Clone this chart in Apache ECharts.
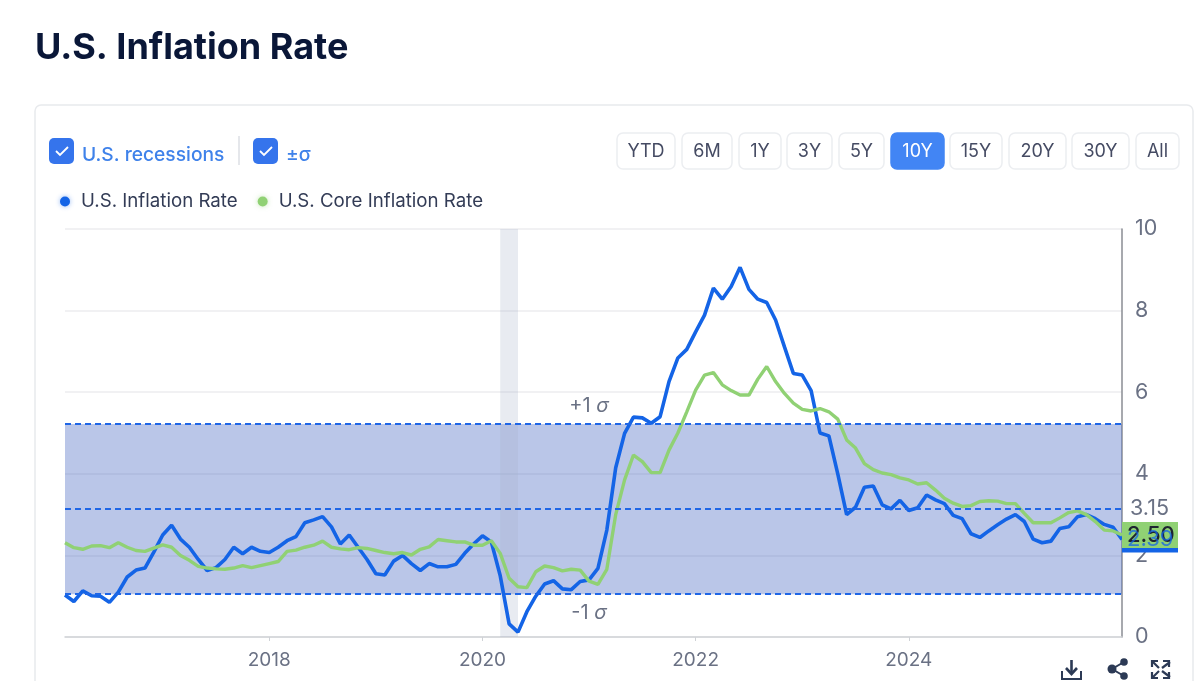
<!DOCTYPE html>
<html><head><meta charset="utf-8">
<script src="https://cdn.jsdelivr.net/npm/echarts@6/dist/echarts.min.js"></script>
<style>html,body{margin:0;padding:0;background:#fff}#c{width:1200px;height:681px}</style>
</head><body><div id="c"></div>
<script>
const chartTitle='U.S. Inflation Rate';
const inflation=[1.03,0.87,1.13,1.01,1.0,0.85,1.1,1.47,1.64,1.69,2.08,2.5,
2.74,2.4,2.2,1.9,1.63,1.7,1.9,2.2,2.04,2.2,2.1,2.07,
2.2,2.36,2.46,2.8,2.87,2.95,2.7,2.28,2.5,2.2,1.9,1.55,
1.52,1.86,2.0,1.8,1.63,1.8,1.72,1.72,1.78,2.05,2.28,2.48,
2.33,1.5,0.32,0.12,0.62,1.0,1.3,1.38,1.18,1.16,1.36,1.4,
1.68,2.62,4.15,4.99,5.39,5.37,5.24,5.4,6.26,6.84,7.05,7.48,
7.89,8.55,8.28,8.59,9.06,8.52,8.28,8.2,7.77,7.11,6.46,6.42,
6.04,5.0,4.93,4.0,3.0,3.18,3.67,3.7,3.24,3.14,3.35,3.1,
3.17,3.48,3.36,3.27,2.98,2.9,2.53,2.44,2.6,2.75,2.89,3.0,
2.83,2.4,2.31,2.35,2.66,2.7,2.95,3.0,2.9,2.76,2.69,2.39];
const core=[2.31,2.19,2.15,2.23,2.24,2.19,2.31,2.2,2.12,2.1,2.18,2.26,
2.2,2.0,1.88,1.73,1.69,1.67,1.66,1.69,1.75,1.7,1.75,1.8,
1.85,2.1,2.13,2.2,2.25,2.35,2.2,2.16,2.14,2.19,2.17,2.12,
2.07,2.04,2.07,2.01,2.15,2.21,2.39,2.36,2.33,2.33,2.25,2.25,
2.36,2.05,1.44,1.23,1.21,1.6,1.74,1.7,1.62,1.66,1.64,1.37,
1.29,1.66,3.0,3.85,4.46,4.3,4.03,4.03,4.58,5.0,5.52,6.05,
6.42,6.48,6.18,6.04,5.93,5.93,6.32,6.63,6.26,5.97,5.73,5.58,
5.54,5.6,5.52,5.34,4.83,4.63,4.25,4.1,4.02,3.98,3.9,3.85,
3.75,3.78,3.6,3.4,3.28,3.2,3.22,3.32,3.34,3.33,3.27,3.27,
3.03,2.8,2.8,2.8,2.92,3.05,3.09,3.0,2.83,2.62,2.6,2.5];
const months=[];
for(let i=0;i<120;i++){const t=2016*12+1+i;months.push(Math.floor(t/12)+'-'+String(t%12+1).padStart(2,'0'));}
const yearTicks=['2018-01','2020-01','2022-01','2024-01'];
const sigmaMean=3.15,sigmaUpper=5.22,sigmaLower=1.05;
const recessionStart='2020-03',recessionEnd='2020-05';
const rangeButtons=[['YTD',617,675],['6M',682,732],['1Y',739,781],['3Y',787,832],['5Y',839,884],['10Y',891,944],['15Y',950,1002],['20Y',1009,1066],['30Y',1072,1129],['All',1136,1179]];
const F='Inter, "Noto Sans", sans-serif';
const BLUE='#1464e6',GREEN='#90d174',GRAY='#6a7184';
const g=[];
g.push({type:'rect',shape:{x:35,y:105,width:1158,height:640,r:6},style:{fill:'#fff',stroke:'#e8eaed',lineWidth:1.5},z:-1});
g.push({type:'text',style:{x:35,y:48,text:chartTitle,font:'700 36px '+F,fill:'#0a1738',textVerticalAlign:'middle'}});
function check(x){
 g.push({type:'rect',shape:{x:x,y:138,width:25,height:26,r:5},style:{fill:'#3574ec'}});
 g.push({type:'polyline',shape:{points:[[x+7,151],[x+11,155],[x+19,147]]},style:{stroke:'#fff',lineWidth:1.8,fill:null}});
}
check(49);check(253);
g.push({type:'text',style:{x:82,y:155,text:'U.S. recessions',font:'500 19.2px '+F,fill:'#3f82ea',textVerticalAlign:'middle'}});
g.push({type:'line',shape:{x1:239,y1:136,x2:239,y2:165},style:{stroke:'#dcdfe4',lineWidth:1.5}});
g.push({type:'text',style:{x:286,y:155,text:'±σ',font:'500 19.2px '+F,fill:'#3f82ea',textVerticalAlign:'middle'}});
rangeButtons.forEach(b=>{
 const on=b[0]==='10Y';
 g.push({type:'rect',shape:{x:b[1],y:133,width:b[2]-b[1],height:36,r:6},style:{fill:on?'#4285f4':'#fff',stroke:on?'#4285f4':'#eceef1',lineWidth:1.5}});
 g.push({type:'text',style:{x:(b[1]+b[2])/2,y:152,text:b[0],font:'400 18px '+F,fill:on?'#fff':'#454b63',textAlign:'center',textVerticalAlign:'middle'}});
});
const ic='#2c3a55';
g.push({type:'polyline',shape:{points:[[1062,671],[1062,679],[1081,679],[1081,671]]},style:{stroke:ic,lineWidth:2,fill:null}});
g.push({type:'line',shape:{x1:1071.5,y1:660,x2:1071.5,y2:673},style:{stroke:ic,lineWidth:2.6}});
g.push({type:'polyline',shape:{points:[[1066,668],[1071.5,674],[1077,668]]},style:{stroke:ic,lineWidth:2.6,fill:null}});
g.push({type:'polyline',shape:{points:[[1124,662],[1112,669],[1124,676]]},style:{stroke:ic,lineWidth:2,fill:null}});
[[1124,662],[1112,669],[1124,676]].forEach(p=>g.push({type:'circle',shape:{cx:p[0],cy:p[1],r:p[0]===1112?4.5:3.8},style:{fill:ic}}));
[[1152,661,1],[1169,661,-1],[1152,678,1],[1169,678,-1]].forEach(p=>{
 const sx=p[2],sy=p[1]<670?1:-1,x=p[0],y=p[1];
 g.push({type:'polyline',shape:{points:[[x+6*sx,y],[x,y],[x,y+6*sy]]},style:{stroke:ic,lineWidth:2.2,fill:null}});
 g.push({type:'line',shape:{x1:x+1,y1:y+sy,x2:x+7*sx,y2:y+7*sy},style:{stroke:ic,lineWidth:2.2}});
});
const chart=echarts.init(document.getElementById('c'),null,{renderer:'canvas'});
const sigmaLine=(v,lab)=>({yAxis:v,label:lab?{show:true,position:'end',formatter:String(v),distance:8,color:GRAY,fontSize:21.5,fontFamily:F,padding:[2,0,0,0]}:{show:false}});
const sigText=(sign,val)=>({coord:['2021-01',val],symbol:'circle',symbolSize:0,value:sign,
 label:{show:true,position:'inside',formatter:'{a|'+sign+'1 }{b|σ}',rich:{a:{fontSize:20,color:GRAY,fontFamily:F},b:{fontSize:20,color:GRAY,fontFamily:F,fontStyle:'italic'}}}});
chart.setOption({
 animation:false,
 textStyle:{fontFamily:F},
 graphic:{elements:g},
 legend:{left:55,top:187,icon:'circle',itemWidth:10,itemHeight:10,itemGap:20,
  textStyle:{fontSize:18.7,color:'#333c56',fontFamily:F,padding:[0,0,0,6]},
  data:[
   {name:'U.S. Inflation Rate',itemStyle:{color:BLUE,shadowColor:'rgba(20,100,230,0.45)',shadowBlur:5}},
   {name:'U.S. Core Inflation Rate',itemStyle:{color:GREEN,shadowColor:'rgba(144,209,116,0.5)',shadowBlur:5}}]},
 grid:{left:65,right:78,top:229,bottom:44},
 xAxis:{type:'category',data:months,boundaryGap:false,
  axisLine:{lineStyle:{color:'#cfd2d6',width:1.5}},
  axisTick:{show:true,length:4,lineStyle:{color:'#cfd2d6'},interval:(i,v)=>yearTicks.includes(v)},
  axisLabel:{margin:14,fontSize:19,color:GRAY,fontFamily:F,interval:(i,v)=>yearTicks.includes(v),formatter:v=>v.slice(0,4)},
  splitLine:{show:false}},
 yAxis:{type:'value',position:'right',min:0,max:10,interval:2,
  axisLine:{show:true,lineStyle:{color:'#8a8d93',width:1.5}},
  axisTick:{show:false},
  axisLabel:{margin:13,fontSize:21.5,color:GRAY,fontFamily:F,padding:[3,0,0,0],verticalAlignMinLabel:'middle',verticalAlignMaxLabel:'middle'},
  splitLine:{lineStyle:{color:'#ececef',width:1.5}}},
 series:[
  {name:'U.S. Inflation Rate',type:'line',data:inflation,z:3,symbol:'none',showSymbol:false,
   lineStyle:{color:BLUE,width:3.6},itemStyle:{color:BLUE},
   endLabel:{show:true,formatter:'2.39',distance:0,padding:[4,5,4,5],width:46,height:18,lineHeight:18,backgroundColor:BLUE,color:'#fff',fontSize:22,fontFamily:F},
   markArea:{silent:true,data:[
    [{yAxis:sigmaLower,itemStyle:{color:'rgba(64,96,190,0.36)'}},{yAxis:sigmaUpper}],
    [{xAxis:recessionStart,itemStyle:{color:'rgba(165,178,200,0.26)'}},{xAxis:recessionEnd}]]},
   markLine:{silent:true,symbol:'none',lineStyle:{color:'#1f66e6',type:[6,4],width:2},
    data:[sigmaLine(sigmaUpper,false),sigmaLine(sigmaMean,true),sigmaLine(sigmaLower,false)]},
   markPoint:{silent:true,data:[sigText('+',5.66),sigText('-',0.59)]}
  },
  {name:'U.S. Core Inflation Rate',type:'line',data:core,z:4,symbol:'none',showSymbol:false,
   lineStyle:{color:GREEN,width:3.4},itemStyle:{color:GREEN},
   endLabel:{show:true,formatter:'2.50',distance:0,padding:[4,5,4,5],width:46,height:18,lineHeight:18,backgroundColor:GREEN,color:'#1e2430',fontSize:22,fontWeight:500,fontFamily:F},
   markPoint:{silent:true,z:9,data:[{coord:[months[119],2.39],symbol:'circle',symbolSize:0,
    label:{show:true,position:'right',distance:5,formatter:'2.39',color:'rgba(20,100,230,0.75)',fontSize:22,fontFamily:F}}]}
  }
 ]
});
</script></body></html>
